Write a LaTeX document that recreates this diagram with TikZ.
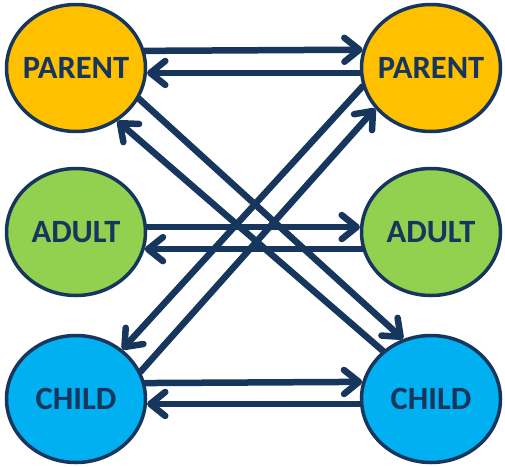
\documentclass[tikz,border=0pt]{standalone}
\usepackage{fontspec}
\setsansfont{Carlito}
\usetikzlibrary{shapes.geometric,arrows.meta}
\definecolor{navy}{HTML}{17365D}
\definecolor{parentfill}{HTML}{FFC000}
\definecolor{adultfill}{HTML}{92D050}
\definecolor{childfill}{HTML}{00B0F0}

\begin{document}
\begin{tikzpicture}[x=1pt, y=-1pt,
		state/.style={ellipse, draw=navy, line width=3.5pt, minimum width=139pt, minimum height=127pt, inner sep=0pt},
		statetext/.style={text=navy, font=\sffamily\bfseries\fontsize{32.5}{38}\selectfont},
		link/.style={draw=navy, line width=6.5pt, line cap=round, -{Straight Barb[length=15pt, width=24pt, round]}}]
	\useasboundingbox (0,0) rectangle (505,466);
	% left column
	\node[state, fill=parentfill, label={[statetext]center:PARENT}] (pl) at (76,68) {};
	\node[state, fill=adultfill, label={[statetext]center:ADULT}] (al) at (76,232) {};
	\node[state, fill=childfill, label={[statetext]center:CHILD}] (cl) at (76,399) {};
	% right column
	\node[state, fill=parentfill, label={[statetext]center:PARENT}] (pr) at (431,68) {};
	\node[state, fill=adultfill, label={[statetext]center:ADULT}] (ar) at (431,232) {};
	\node[state, fill=childfill, label={[statetext]center:CHILD}] (cr) at (431,399) {};
	% straight across
	\draw[link] (pl.14.8) -- (pr.165.2);
	\draw[link] (pr.184) -- (pl.-4);
	\draw[link] (al.4) -- (ar.176);
	\draw[link] (ar.194.8) -- (al.-14.8);
	\draw[link] (cl.13.9) -- (cr.166.1);
	\draw[link] (cr.184.8) -- (cl.-4.8);
	% crossing
	\draw[link] (pl.-26.6) -- (cr.115.5);
	\draw[link] (cr.135.6) -- (pl.-52);
	\draw[link] (pr.195) -- (cl.47.4);
	\draw[link] (cl.23.5) -- (pr.216);
\end{tikzpicture}
\end{document}
